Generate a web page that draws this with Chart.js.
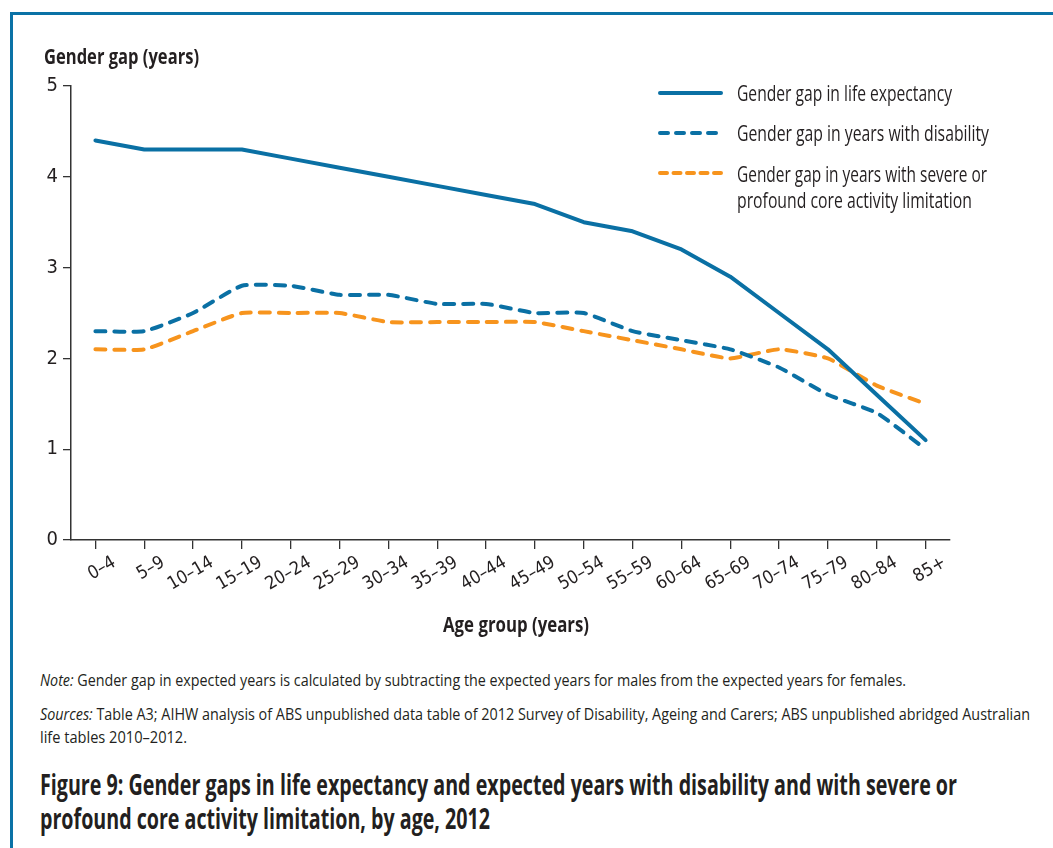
<!DOCTYPE html>
<html><head><meta charset="utf-8">
<script src="https://cdn.jsdelivr.net/npm/chart.js@4.4.1/dist/chart.umd.min.js"></script>
<style>
html,body{margin:0;padding:0;background:#fff;}
body{width:1053px;height:848px;position:relative;overflow:hidden;font-family:'Open Sans','Noto Sans',sans-serif;color:#231f20;}
.frameTop{position:absolute;left:10px;top:12px;width:1043px;height:3px;background:#0a72a6;}
.frameLeft{position:absolute;left:10px;top:12px;width:3px;height:836px;background:#0a72a6;}
#wrap{position:absolute;left:0;top:0;width:1053px;height:650px;}
.t{position:absolute;white-space:nowrap;line-height:1;transform-origin:0 0;}
svg.ls{position:absolute;overflow:visible;}
</style>
</head><body>
<div class="frameTop"></div><div class="frameLeft"></div>
<div id="wrap"><canvas id="c" width="1053" height="650"></canvas></div>
<div id="texts"></div>
<script>
const ageGroups = ['0–4','5–9','10–14','15–19','20–24','25–29','30–34','35–39','40–44','45–49','50–54','55–59','60–64','65–69','70–74','75–79','80–84','85+'];
const lifeExpectancyGap = [4.4,4.3,4.3,4.3,4.2,4.1,4.0,3.9,3.8,3.7,3.5,3.4,3.2,2.9,2.5,2.1,1.6,1.1];
const disabilityGap = [2.3,2.3,2.5,2.8,2.8,2.7,2.7,2.6,2.6,2.5,2.5,2.3,2.2,2.1,1.9,1.6,1.4,1.0];
const severeLimitationGap = [2.1,2.1,2.3,2.5,2.5,2.5,2.4,2.4,2.4,2.4,2.3,2.2,2.1,2.0,2.1,2.0,1.7,1.5];
const seriesLabels = ['Gender gap in life expectancy','Gender gap in years with disability','Gender gap in years with severe or profound core activity limitation'];
const yTicks = [0,1,2,3,4,5];
const yAxisTitle = 'Gender gap (years)';
const xAxisTitle = 'Age group (years)';

const BLUE = '#0a70a4', ORANGE = '#f7941d', TXT = '#231f20';
const TICKFAM = "'DejaVu Sans Condensed','DejaVu Sans',sans-serif";
const DASH = [10,9];

const datasets = [
  {label:seriesLabels[0], data:lifeExpectancyGap, borderColor:BLUE, borderWidth:4, tension:0, borderCapStyle:'round', borderJoinStyle:'round'},
  {label:seriesLabels[1], data:disabilityGap, borderColor:BLUE, borderWidth:4, tension:0.15, borderDash:DASH, borderCapStyle:'round', borderJoinStyle:'round'},
  {label:seriesLabels[2], data:severeLimitationGap, borderColor:ORANGE, borderWidth:4, tension:0.15, borderDash:DASH, borderCapStyle:'round', borderJoinStyle:'round'}
];

new Chart(document.getElementById('c'), {
  type:'line',
  data:{labels:ageGroups, datasets:datasets},
  options:{
    responsive:false, animation:false,
    layout:{padding:{left:0,top:86,right:103,bottom:0}},
    plugins:{legend:{display:false}, tooltip:{enabled:false}},
    elements:{point:{radius:0}},
    scales:{
      x:{
        offset:true,
        grid:{drawOnChartArea:false, drawTicks:true, tickLength:9, color:'#333', lineWidth:1.3},
        border:{color:'#333', width:1.5},
        ticks:{autoSkip:false, maxRotation:30, minRotation:30, labelOffset:19, padding:3, color:TXT, font:{family:TICKFAM, size:18}},
        afterFit:s=>{s.height=110;}
      },
      y:{
        min:yTicks[0], max:yTicks[yTicks.length-1],
        afterBuildTicks:s=>{s.ticks = yTicks.map(v=>({value:v}));},
        grid:{drawOnChartArea:false, drawTicks:true, tickLength:8, color:'#333', lineWidth:1.3},
        border:{color:'#333', width:1.5},
        ticks:{padding:5, color:TXT, font:{family:TICKFAM, size:20}},
        afterFit:s=>{s.width=71;}
      }
    }
  }
});

// ---- text blocks (HTML), each line fitted to the reference width ----
const box = document.getElementById('texts');
const fitted = [];
function addText(html, left, baseline, size, width, bold){
  const d = document.createElement('div');
  d.className = 't';
  d.innerHTML = html;
  d.style.left = left+'px';
  d.style.top = (baseline - 0.888*size)+'px';
  d.style.fontSize = size+'px';
  if (bold) d.style.fontWeight = 'bold';
  box.appendChild(d);
  fitted.push([d,width]);
}
function fitAll(){
  fitted.forEach(([d,w])=>{
    d.style.transform='none';
    const cw = d.getBoundingClientRect().width;
    if (cw>0) d.style.transform = 'scaleX('+(w/cw)+')';
  });
}
addText(yAxisTitle, 44, 63.5, 22, 155, true);
addText(xAxisTitle, 443, 632, 22, 146, true);

// legend built from datasets
const legendLines = [[seriesLabels[0]],[seriesLabels[1]],['Gender gap in years with severe or','profound core activity limitation']];
const legendBase = [[102],[142],[183,209]];
const legendW = [[215],[252],[250,235]];
const legendY = [92.5,132.5,173];
const legendX2 = [723,718,723];
const legendDash = [null,'8 8','7 6.5'];
datasets.forEach((d,i)=>{
  const s = document.createElementNS('http://www.w3.org/2000/svg','svg');
  s.setAttribute('class','ls'); s.setAttribute('width','80'); s.setAttribute('height','10');
  s.style.left='657px'; s.style.top=(legendY[i]-5)+'px';
  const l = document.createElementNS('http://www.w3.org/2000/svg','line');
  l.setAttribute('x1','3'); l.setAttribute('y1','5'); l.setAttribute('x2',String(legendX2[i]-657-2)); l.setAttribute('y2','5');
  l.setAttribute('stroke',d.borderColor); l.setAttribute('stroke-width','4'); l.setAttribute('stroke-linecap','round');
  if (d.borderDash) l.setAttribute('stroke-dasharray',legendDash[i]);
  s.appendChild(l); box.appendChild(s);
  legendLines[i].forEach((t,j)=> addText(t, 737, legendBase[i][j], 21, legendW[i][j], false));
});

addText('<i>Note:</i> Gender gap in expected years is calculated by subtracting the expected years for males from the expected years for females.', 40, 686, 17, 866, false);
addText('<i>Sources:</i> Table A3; AIHW analysis of ABS unpublished data table of 2012 Survey of Disability, Ageing and Carers; ABS unpublished abridged Australian', 40, 720, 17, 990, false);
addText('life tables 2010–2012.', 40, 743, 17, 147, false);
addText('Figure 9: Gender gaps in life expectancy and expected years with disability and with severe or', 40, 795, 28, 917, true);
addText('profound core activity limitation, by age, 2012', 40, 829, 28, 450, true);

fitAll();
if (document.fonts && document.fonts.ready) document.fonts.ready.then(fitAll);
window.addEventListener('load', fitAll);
</script>
</body></html>
